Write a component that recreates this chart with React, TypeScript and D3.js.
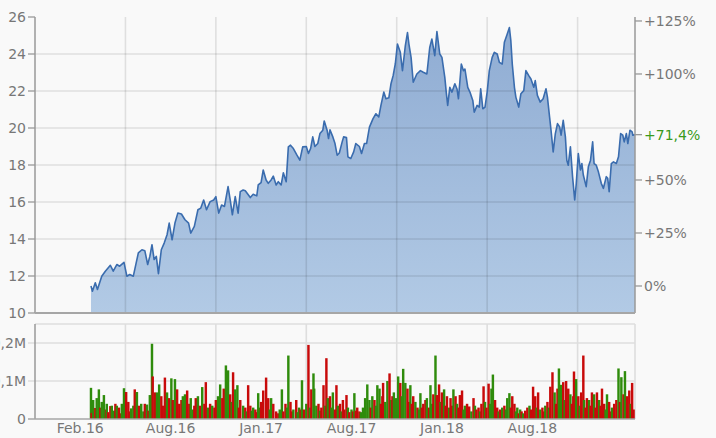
import * as d3 from "d3"

// closing prices: [trading day, price]
const prices: [number, number][] = [
  [78, 11.46], [80, 11.18], [84, 11.63], [87, 11.27], [93, 11.99], [98, 12.26], [105, 12.58], [109, 12.26],
  [114, 12.62], [118, 12.53], [124, 12.74], [128, 11.99], [132, 12.08], [137, 11.99], [144, 13.25], [149, 13.42],
  [153, 13.37], [157, 12.62], [160, 13.06], [163, 13.69], [166, 12.89], [169, 13.06], [172, 12.13], [176, 13.42],
  [180, 13.78], [184, 14.23], [187, 14.86], [191, 13.96], [195, 14.86], [199, 15.4], [204, 15.35], [209, 15.04],
  [214, 14.86], [217, 14.32], [222, 14.68], [227, 15.58], [231, 15.67], [235, 16.11], [239, 15.58], [244, 16.02],
  [249, 16.11], [252, 16.29], [256, 15.4], [260, 15.84], [264, 15.76], [269, 16.83], [272, 16.11], [275, 15.31],
  [279, 16.29], [283, 15.4], [286, 16.56], [290, 16.65], [293, 16.61], [300, 16.24], [304, 16.42], [309, 16.33],
  [311, 16.92], [315, 17.05], [318, 17.73], [322, 17.19], [325, 17.01], [329, 17.19], [332, 17.4], [336, 16.92],
  [339, 17.1], [343, 16.92], [346, 17.58], [350, 17.1], [353, 18.98], [356, 19.07], [360, 18.89], [365, 18.53],
  [369, 18.26], [373, 18.98], [378, 19.0], [381, 18.62], [384, 18.89], [387, 19.52], [390, 19.0], [394, 19.16],
  [397, 19.7], [401, 19.88], [403, 20.38], [407, 19.88], [409, 19.43], [411, 19.9], [415, 19.52], [418, 19.16],
  [421, 18.53], [424, 18.65], [428, 19.25], [430, 19.52], [434, 19.48], [436, 18.44], [440, 18.35], [444, 18.71],
  [447, 19.16], [452, 19.0], [455, 18.62], [459, 19.16], [462, 19.16], [466, 20.05], [471, 20.51], [475, 20.77],
  [479, 20.6], [482, 21.22], [486, 21.94], [489, 21.58], [493, 21.63], [496, 22.39], [499, 22.83], [502, 23.46],
  [505, 24.54], [509, 24.09], [512, 23.1], [516, 24.45], [519, 25.16], [521, 24.54], [524, 23.82], [527, 22.47],
  [532, 22.92], [537, 23.1], [541, 23.01], [546, 22.92], [550, 24.35], [553, 24.81], [557, 23.91], [560, 25.21],
  [564, 24.0], [567, 23.82], [571, 22.74], [573, 21.94], [575, 21.22], [578, 22.2], [581, 21.94], [585, 22.39],
  [588, 22.11], [590, 21.58], [594, 23.46], [597, 23.1], [599, 23.19], [603, 22.2], [606, 21.94], [610, 21.49],
  [612, 20.86], [616, 21.22], [619, 21.13], [621, 22.12], [624, 21.04], [627, 21.13], [630, 21.94], [633, 23.1],
  [637, 23.82], [640, 24.09], [644, 24.0], [647, 23.55], [651, 23.46], [654, 24.63], [658, 25.08], [661, 25.43],
  [663, 24.72], [665, 23.46], [668, 22.2], [670, 21.67], [674, 21.13], [677, 21.85], [681, 22.02], [684, 23.1],
  [688, 22.83], [691, 22.65], [695, 22.2], [697, 22.56], [700, 21.76], [704, 21.4], [708, 21.58], [712, 22.12],
  [714, 21.67], [717, 20.59], [719, 19.88], [722, 18.71], [725, 19.7], [728, 20.24], [731, 20.06], [733, 19.61],
  [736, 20.41], [739, 19.52], [741, 18.26], [743, 17.99], [746, 18.98], [749, 17.37], [752, 16.11], [754, 16.92],
  [757, 18.62], [760, 17.73], [762, 18.08], [764, 17.46], [768, 16.83], [771, 17.9], [774, 18.26], [777, 19.25],
  [779, 18.08], [782, 17.99], [785, 17.63], [789, 17.01], [792, 16.74], [796, 17.37], [798, 17.28], [800, 16.56],
  [803, 18.08], [806, 18.17], [810, 18.08], [813, 18.44], [816, 19.7], [819, 19.61], [821, 19.25], [824, 19.7],
  [826, 19.16], [829, 19.88], [832, 19.79], [833, 19.61], [836, 19.64],
]

// volume: [trading day, thousand shares, up day?]
const volumes: [number, number, number][] = [
  [78, 82, 1], [79, 16, 0], [81, 50, 1], [84, 29, 0], [86, 55, 1], [89, 78, 1], [91, 30, 0], [93, 45, 1],
  [96, 63, 1], [99, 25, 0], [100, 40, 1], [102, 18, 0], [105, 34, 0], [107, 35, 1], [110, 22, 1], [112, 40, 0],
  [114, 35, 1], [117, 30, 0], [119, 15, 0], [121, 40, 1], [124, 81, 1], [127, 71, 0], [130, 45, 0], [132, 20, 0],
  [134, 28, 1], [137, 35, 1], [139, 78, 0], [142, 71, 1], [145, 35, 0], [148, 40, 1], [151, 20, 1], [153, 40, 0],
  [156, 38, 1], [158, 22, 0], [160, 63, 1], [163, 198, 1], [164, 112, 0], [167, 70, 0], [170, 70, 1], [173, 91, 1],
  [176, 60, 0], [178, 35, 0], [181, 109, 0], [184, 70, 1], [187, 55, 0], [190, 107, 1], [192, 50, 0], [195, 105, 1],
  [198, 78, 0], [201, 40, 0], [204, 50, 0], [206, 60, 1], [209, 65, 1], [212, 75, 0], [215, 40, 0], [217, 55, 1],
  [220, 25, 1], [222, 35, 0], [224, 55, 0], [227, 60, 1], [230, 35, 0], [233, 84, 1], [236, 40, 0], [238, 97, 0],
  [241, 30, 1], [244, 40, 0], [247, 35, 1], [250, 30, 0], [252, 50, 0], [255, 60, 1], [258, 91, 1], [261, 55, 0],
  [263, 80, 0], [266, 141, 1], [269, 128, 1], [272, 65, 0], [274, 45, 1], [276, 123, 0], [279, 78, 1], [282, 89, 1],
  [284, 30, 0], [286, 50, 0], [290, 35, 1], [293, 30, 0], [295, 20, 1], [297, 89, 0], [300, 35, 0], [302, 22, 1],
  [304, 30, 1], [307, 25, 0], [309, 18, 0], [311, 68, 1], [313, 30, 1], [315, 45, 0], [318, 75, 0], [322, 109, 0],
  [325, 55, 0], [327, 25, 1], [329, 55, 1], [332, 40, 0], [336, 20, 0], [339, 15, 0], [341, 25, 1], [344, 78, 1],
  [346, 20, 0], [349, 40, 0], [351, 30, 1], [353, 167, 1], [356, 45, 0], [358, 20, 0], [360, 25, 1], [364, 50, 0],
  [366, 18, 1], [368, 30, 1], [370, 25, 0], [372, 102, 1], [375, 25, 0], [378, 40, 1], [381, 195, 0], [383, 30, 1],
  [385, 78, 0], [388, 120, 1], [389, 80, 1], [392, 35, 1], [395, 40, 0], [397, 22, 1], [399, 30, 0], [402, 89, 0],
  [404, 35, 1], [406, 160, 0], [408, 55, 1], [411, 60, 0], [413, 30, 1], [415, 70, 1], [418, 25, 0], [420, 89, 0],
  [422, 35, 1], [425, 40, 0], [427, 20, 1], [429, 50, 0], [431, 25, 0], [434, 63, 0], [436, 30, 1], [438, 18, 0],
  [441, 25, 1], [443, 20, 0], [445, 68, 1], [447, 22, 0], [449, 30, 0], [452, 20, 0], [454, 18, 1], [457, 30, 1],
  [460, 55, 1], [463, 91, 1], [466, 50, 1], [468, 30, 0], [470, 60, 1], [473, 50, 0], [475, 35, 1], [477, 89, 1],
  [480, 80, 1], [482, 40, 0], [484, 60, 0], [485, 95, 0], [488, 45, 1], [491, 100, 1], [494, 120, 0], [496, 50, 1],
  [498, 60, 0], [500, 70, 1], [503, 55, 1], [506, 112, 1], [509, 95, 0], [511, 60, 1], [513, 132, 1], [516, 95, 1],
  [519, 80, 0], [521, 45, 0], [523, 89, 1], [525, 40, 0], [527, 60, 0], [530, 45, 1], [533, 30, 0], [535, 25, 1],
  [537, 68, 1], [539, 30, 0], [541, 40, 0], [544, 50, 0], [546, 55, 1], [549, 30, 0], [551, 89, 1], [553, 40, 1],
  [555, 65, 0], [558, 167, 1], [560, 63, 0], [563, 91, 0], [565, 45, 1], [567, 70, 0], [570, 78, 1], [572, 35, 0],
  [574, 60, 0], [577, 30, 1], [579, 55, 0], [581, 35, 0], [583, 78, 1], [586, 60, 0], [588, 40, 1], [590, 30, 0],
  [592, 63, 0], [595, 75, 0], [597, 25, 1], [599, 35, 1], [602, 40, 0], [605, 33, 0], [608, 20, 1], [611, 55, 0],
  [613, 35, 1], [615, 25, 0], [618, 30, 0], [620, 20, 1], [622, 40, 0], [625, 86, 0], [627, 45, 1], [629, 30, 0],
  [632, 93, 0], [634, 40, 1], [636, 80, 1], [638, 117, 1], [641, 50, 0], [644, 30, 0], [646, 20, 1], [648, 25, 0],
  [651, 30, 1], [654, 35, 0], [656, 25, 1], [658, 55, 1], [661, 68, 1], [663, 30, 0], [665, 60, 0], [668, 40, 0],
  [670, 20, 1], [672, 30, 1], [674, 15, 0], [676, 25, 1], [678, 20, 0], [680, 15, 1], [683, 22, 0], [686, 30, 0],
  [689, 35, 1], [691, 25, 0], [694, 85, 0], [697, 60, 0], [699, 30, 1], [701, 70, 0], [704, 25, 1], [707, 30, 0],
  [709, 20, 0], [711, 35, 1], [714, 45, 0], [716, 30, 1], [718, 85, 0], [721, 123, 0], [724, 70, 1], [726, 40, 0],
  [728, 80, 0], [730, 133, 1], [733, 90, 1], [736, 97, 0], [738, 50, 1], [740, 100, 0], [743, 80, 0], [746, 65, 1],
  [748, 40, 0], [750, 60, 0], [751, 125, 0], [754, 105, 1], [757, 60, 0], [759, 35, 1], [761, 70, 0], [764, 167, 0],
  [765, 50, 1], [767, 30, 0], [769, 55, 0], [772, 50, 1], [774, 35, 0], [776, 70, 0], [779, 65, 1], [781, 30, 0],
  [783, 70, 0], [786, 50, 1], [788, 35, 0], [790, 80, 0], [793, 40, 0], [795, 25, 1], [797, 65, 1], [800, 45, 0],
  [802, 20, 0], [804, 30, 1], [807, 40, 0], [810, 50, 0], [813, 133, 1], [815, 45, 0], [817, 110, 1], [820, 65, 0],
  [822, 126, 1], [825, 60, 0], [828, 75, 0], [830, 40, 1], [832, 95, 0], [834, 25, 0],
]

const priceTicks = [10, 12, 14, 16, 18, 20, 22, 24, 26]
const pctTicks = [0, 25, 50, 100, 125]
const volTicks = [0, 100000, 200000]
const volLabels = ["0", "0,1M", "0,2M"]
const dayTicks = [126, 252, 378, 504, 630, 756]
const monthLabels = ["Feb.16", "Aug.16", "Jan.17", "Aug.17", "Jan.18", "Aug.18"]
const monthPos = [63, 189, 315, 441, 567, 693]

const W = 716
const H = 438
const font = "'DejaVu Sans', Verdana, sans-serif"
const gray = "#777"
const fs = 14

export default function App() {
  const x = d3.scaleLinear().domain([0, 836]).range([35, 635])
  const y = d3.scaleLinear().domain([10, 26]).range([313, 17])
  const yv = d3.scaleLinear().domain([0, 250000]).range([419, 324])

  const base = prices[0][1]
  const last = prices[prices.length - 1][1]
  const lastPct = (last / base - 1) * 100
  const yp = d3.scaleLinear().domain([(10 / base - 1) * 100, (26 / base - 1) * 100]).range([313, 17])

  const area = d3
    .area<[number, number]>()
    .x((d) => x(d[0]))
    .y0(y(10))
    .y1((d) => y(d[1]))
  const line = d3
    .line<[number, number]>()
    .x((d) => x(d[0]))
    .y((d) => y(d[1]))

  const bw = x(3.4) - x(0)
  const fmtPct = (v: number) => (v === 0 ? "0%" : "+" + (Math.round(v * 10) / 10).toString().replace(".", ",") + "%")

  return (
    <div style={{ position: "absolute", left: 0, top: 0 }}>
      <svg width={W} height={H} style={{ display: "block", background: "#f9f9f9" }} fontFamily={font}>
        <defs>
          <linearGradient id="fillGrad" gradientUnits="userSpaceOnUse" x1="0" y1={y(26)} x2="0" y2={y(10)}>
            <stop offset="0" stopColor="#8eabd2" />
            <stop offset="1" stopColor="#b2cae5" />
          </linearGradient>
        </defs>

        {/* price panel */}
        <path d={area(prices) || ""} fill="url(#fillGrad)" />
        {priceTicks.slice(1, -1).map((t) => (
          <line key={t} x1={x(0)} x2={x(836)} y1={y(t)} y2={y(t)} stroke="rgba(0,0,0,0.1)" strokeWidth={1.6} />
        ))}
        {dayTicks.map((t) => (
          <line key={t} x1={x(t)} x2={x(t)} y1={y(26)} y2={y(10)} stroke="rgba(0,0,0,0.1)" strokeWidth={1.6} />
        ))}
        <path d={line(prices) || ""} fill="none" stroke="#3a6cae" strokeWidth={1.6} strokeLinejoin="round" />

        <line x1={x(0)} x2={x(0)} y1={y(26)} y2={y(10)} stroke="#999" strokeWidth={1.5} />
        <line x1={x(836)} x2={x(836)} y1={y(26)} y2={y(10)} stroke="#999" strokeWidth={1.5} />
        <line x1={x(0)} x2={x(836)} y1={y(10)} y2={y(10)} stroke="#a6a6a6" strokeWidth={2} />
        {priceTicks.map((t) => (
          <g key={t}>
            <line x1={x(0) - 7} x2={x(0)} y1={y(t)} y2={y(t)} stroke="#999" strokeWidth={1.3} />
            <text x={x(0) - 9} y={y(t)} dy="0.36em" textAnchor="end" fontSize={fs} fill={gray}>
              {t}
            </text>
          </g>
        ))}
        {pctTicks.map((t) => (
          <g key={t}>
            <line x1={x(836)} x2={x(836) + 7} y1={yp(t)} y2={yp(t)} stroke="#999" strokeWidth={1.3} />
            <text x={x(836) + 9} y={yp(t)} dy="0.36em" fontSize={fs} fill={gray}>
              {fmtPct(t)}
            </text>
          </g>
        ))}
        <line x1={x(836)} x2={x(836) + 7} y1={yp(lastPct)} y2={yp(lastPct)} stroke="#999" strokeWidth={1.3} />
        <text x={x(836) + 9} y={yp(lastPct)} dy="0.36em" fontSize={fs} fill="#3a9a1a">
          {fmtPct(lastPct)}
        </text>

        {/* volume panel */}
        {volTicks.slice(1).map((t) => (
          <line key={t} x1={x(0) - 7} x2={x(836)} y1={yv(t)} y2={yv(t)} stroke="#dedede" strokeWidth={1.6} />
        ))}
        {dayTicks.map((t) => (
          <line key={t} x1={x(t)} x2={x(t)} y1={yv(250000)} y2={yv(0)} stroke="#dedede" strokeWidth={1.6} />
        ))}
        <line x1={x(0)} x2={x(836)} y1={yv(250000)} y2={yv(250000)} stroke="#dedede" strokeWidth={1.6} />
        <line x1={x(836)} x2={x(836)} y1={yv(250000)} y2={yv(0)} stroke="#dedede" strokeWidth={1.6} />
        {volumes.map((v, i) => (
          <rect
            key={i}
            x={x(v[0]) - bw / 2}
            y={yv(v[1] * 1000)}
            width={bw}
            height={yv(0) - yv(v[1] * 1000)}
            fill={v[2] ? "#2f8c0c" : "#c80a0a"}
          />
        ))}
        <line x1={x(0)} x2={x(0)} y1={yv(250000)} y2={yv(0)} stroke="#999" strokeWidth={1.5} />
        <line x1={x(0) - 7} x2={x(836)} y1={yv(0)} y2={yv(0)} stroke="#a6a6a6" strokeWidth={1.6} />
        {volTicks.map((t, i) => (
          <text key={t} x={x(0) - 9} y={yv(t)} dy="0.36em" textAnchor="end" fontSize={fs} fill={gray}>
            {volLabels[i]}
          </text>
        ))}

        {monthPos.map((t, i) => (
          <text key={t} x={x(t)} y={433} textAnchor="middle" fontSize={fs} fill={gray}>
            {monthLabels[i]}
          </text>
        ))}
      </svg>
    </div>
  )
}
